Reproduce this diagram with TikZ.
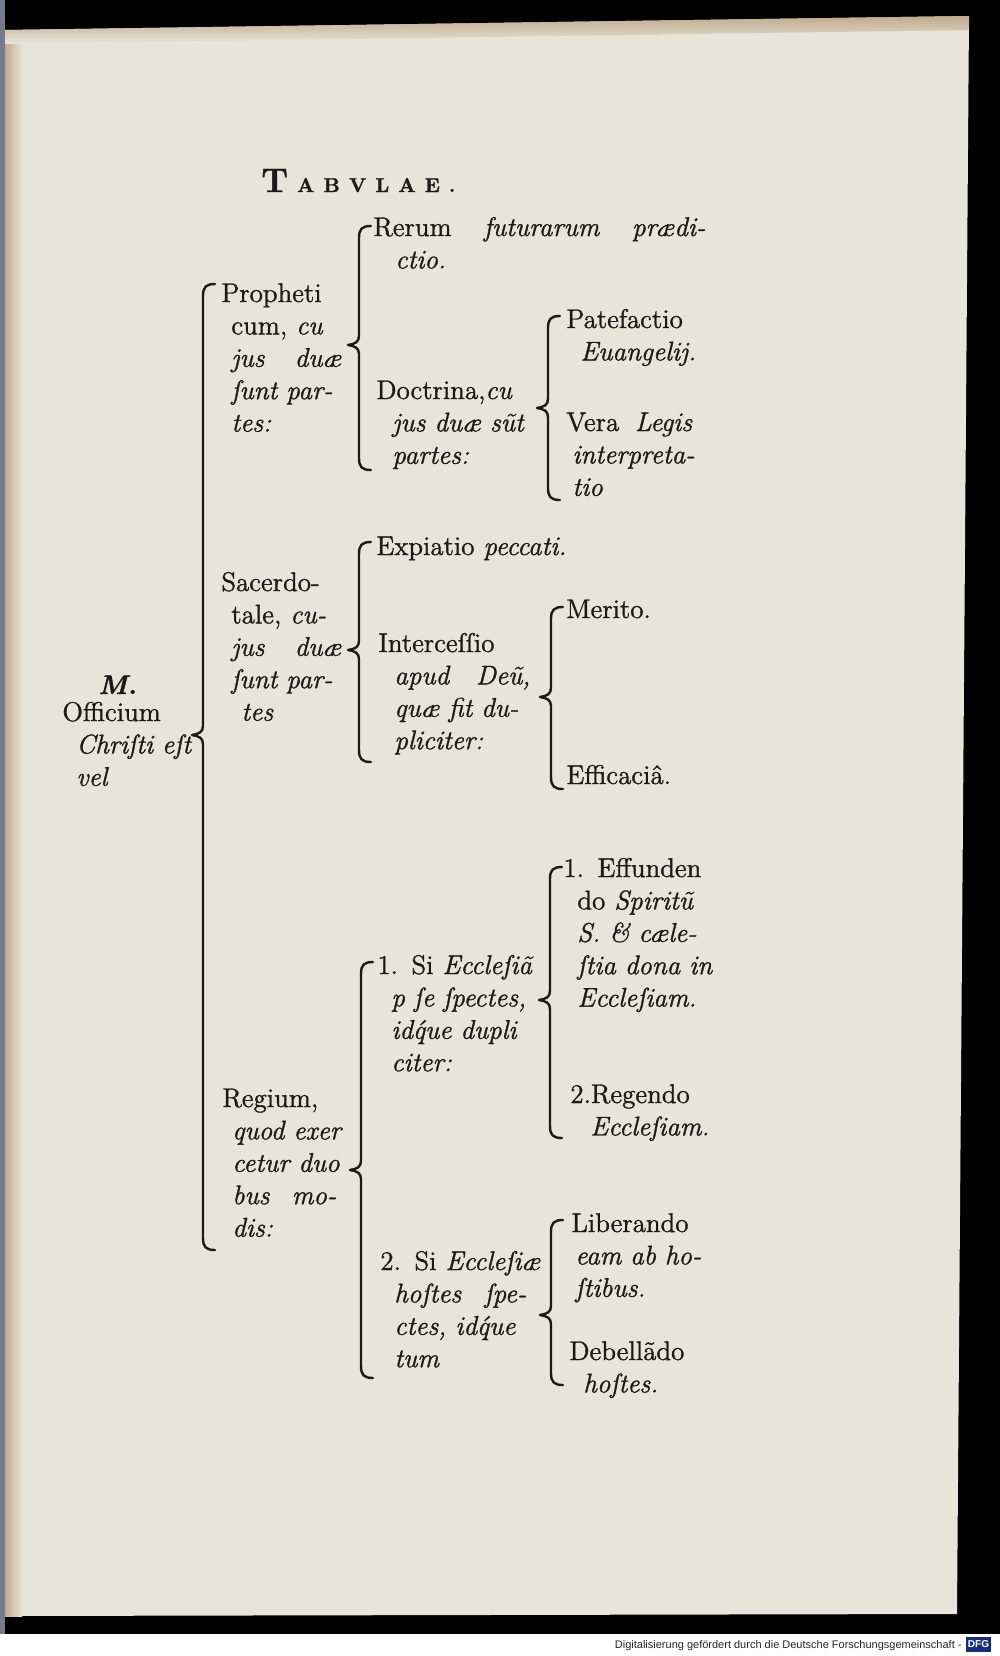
\documentclass[tikz,border=0pt]{standalone}
\usepackage{fontspec}
\setmainfont{Latin Modern Roman}[FakeBold=1.2]
\newfontfamily\footfont{Liberation Sans}
\definecolor{ink}{RGB}{28,25,23}
\definecolor{paper}{RGB}{231,228,218}
\definecolor{paperedge}{RGB}{192,170,140}
\definecolor{scanrim}{RGB}{118,124,140}
\definecolor{dfgblue}{RGB}{22,46,122}
\newcommand{\ind}{\hspace*{5pt}}
% brace: name, x, top, tip, bottom
\newcommand{\brc}[5]{%
  \draw[brc] ({#2+12},#3) .. controls ({#2+3},#3) and (#2,{#3+3}) .. (#2,{#3+12})
    -- (#2,{#4-9}) .. controls (#2,{#4-3}) and ({#2-4},{#4-1}) .. ({#2-11},#4)
    .. controls ({#2-4},{#4+1}) and (#2,{#4+3}) .. (#2,{#4+9})
    -- (#2,{#5-12}) .. controls (#2,{#5-3}) and ({#2+3},#5) .. ({#2+12},#5);
  \coordinate (#1) at ({#2-11},#4);}
\begin{document}
\begin{tikzpicture}[
  x=0.5pt, y=-0.5pt,
  lbl/.style={anchor=base west, inner sep=0pt, text width=190pt, align=left,
    font=\fontsize{13.5}{16.2}\selectfont, text=ink},
  brc/.style={draw=ink, line width=1.2pt, line cap=round, line join=round}
]
  \useasboundingbox (0,0) rectangle (1000,1656);
  % scan background
  \fill[black] (0,0) rectangle (1000,1634);
  \fill[white] (0,1634) rectangle (1000,1656);
  \fill[scanrim] (0,0) rectangle (5,1634);
  \fill[paper] (5,30) -- (969,16) -- (957,1614) -- (5,1616) -- cycle;
  \shade[left color=paperedge, right color=paper] (5,30) rectangle (22,1616);
  \shade[top color=paperedge, bottom color=paper] (5,30) -- (969,16) -- (969,30) -- (5,44) -- cycle;

  % title
  \node[anchor=base west, inner sep=0pt, text=ink] (title) at (261,192)
    {\makebox[97pt]{\bfseries\fontsize{17}{17}\selectfont T\hfill
     \fontsize{10}{10}\selectfont A\hfill B\hfill V\hfill L\hfill A\hfill E\hfill .}};

  % root
  \node[lbl] (mark) at (98,694) {\textbf{\textit{M.}}};
  \node[lbl] (officium) at (62,721) {Officium\\ \hspace*{7pt}\textit{Chriſti eſt}\\ \hspace*{7pt}\textit{vel}};
  \brc{b1}{203}{284}{735}{1250}

  % first level
  \node[lbl] (prophet) at (221,302) {Propheti\\ \ind cum, \textit{cu}\\ \ind\makebox[55pt]{\textit{jus}\hfill\textit{duæ}}\\ \ind\textit{ſunt par-}\\ \ind\textit{tes:}};
  \node[lbl] (sacerd) at (221,591) {Sacerdo-\\ \ind tale, \textit{cu-}\\ \ind\makebox[55pt]{\textit{jus}\hfill\textit{duæ}}\\ \ind\textit{ſunt par-}\\ \ind\ind\textit{tes}};
  \node[lbl] (regium) at (222,1107) {Regium,\\ \ind\textit{quod exer}\\ \ind\textit{cetur duo}\\ \ind\makebox[52pt]{\textit{bus}\hfill\textit{mo-}}\\ \ind\textit{dis:}};

  % propheticum
  \brc{b2}{359}{226}{345}{470}
  \node[lbl] (rerum) at (373,236) {\makebox[166pt]{Rerum\hfill\textit{futurarum}\hfill\textit{prædi-}}\\ \hspace*{11pt}\textit{ctio.}};
  \node[lbl] (doctr) at (376,399) {Doctrina,\textit{cu}\\ \hspace*{8pt}\textit{jus duæ sũt}\\ \hspace*{8pt}\textit{partes:}};
  \brc{b3}{548}{316}{408}{500}
  \node[lbl] (patef) at (566,328) {Patefactio\\ \hspace*{7pt}\textit{Euangelij.}};
  \node[lbl] (vera) at (566,431) {\makebox[63pt]{Vera\hfill\textit{Legis}}\\ \hspace*{3pt}\textit{interpreta-}\\ \hspace*{3pt}\textit{tio}};

  % sacerdotale
  \brc{b4}{359}{542}{650}{762}
  \node[lbl] (expia) at (376,555) {Expiatio \textit{peccati.}};
  \node[lbl] (interc) at (378,652) {Interceſſio\\ \hspace*{8pt}\makebox[68pt]{\textit{apud}\hfill\textit{Deũ,}}\\ \hspace*{8pt}\textit{quæ fit du-}\\ \hspace*{8pt}\textit{pliciter:}};
  \brc{b5}{551}{607}{697}{789}
  \node[lbl] (merito) at (566,618) {Merito.};
  \node[lbl] (effic) at (566,784) {Efficaciâ.};

  % regium
  \brc{b6}{361}{962}{1170}{1378}
  \node[lbl] (sieccl) at (377,974) {1. Si \textit{Eccleſiã}\\ \hspace*{7pt}\textit{p ſe ſpectes,}\\ \hspace*{7pt}\textit{id\'que dupli}\\ \hspace*{7pt}\textit{citer:}};
  \brc{b7}{550}{867}{1000}{1138}
  \node[lbl] (effund) at (563,877) {1. Effunden\\ \hspace*{7pt}do \textit{Spiritũ}\\ \hspace*{7pt}\textit{S. \& cæle-}\\ \hspace*{7pt}\textit{ſtia dona in}\\ \hspace*{7pt}\textit{Eccleſiam.}};
  \node[lbl] (regend) at (570,1103) {2.Regendo\\ \hspace*{10pt}\textit{Eccleſiam.}};
  \node[lbl] (sihost) at (380,1270) {2. Si \textit{Eccleſiæ}\\ \hspace*{7pt}\makebox[66pt]{\textit{hoſtes}\hfill\textit{ſpe-}}\\ \hspace*{7pt}\textit{ctes, id\'que}\\ \hspace*{7pt}\textit{tum}};
  \brc{b8}{551}{1220}{1315}{1385}
  \node[lbl] (liber) at (571,1232) {Liberando\\ \hspace*{2pt}\textit{eam ab ho-}\\ \hspace*{2pt}\textit{ſtibus.}};
  \node[lbl] (debell) at (569,1360) {Debellãdo\\ \hspace*{7pt}\textit{hoſtes.}};

  % footer
  \node[anchor=base east, inner sep=0pt, text=black!85, font=\footfont\fontsize{5.5}{6}\selectfont] (foot) at (962,1648)
    {Digitalisierung gefördert durch die Deutsche Forschungsgemeinschaft -};
  \node[fill=dfgblue, text=white, inner sep=0pt, minimum width=12.5pt, minimum height=7.5pt,
    font=\footfont\bfseries\fontsize{5}{6}\selectfont] (dfg) at (978.5,1644.5) {DFG};
\end{tikzpicture}
\end{document}
